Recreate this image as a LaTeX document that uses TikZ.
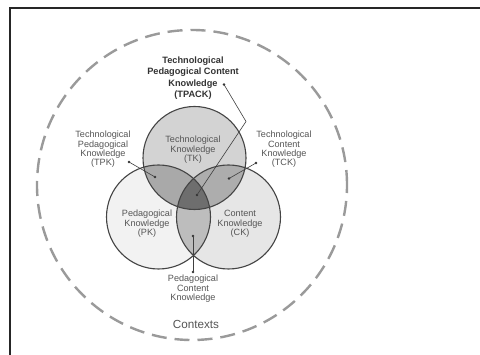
\documentclass[tikz,border=0pt]{standalone}
\usepackage{fontspec}
\setmainfont{Liberation Sans}
\definecolor{tkfill}{HTML}{D3D3D3}
\definecolor{pkfill}{HTML}{F2F2F2}
\definecolor{ckfill}{HTML}{E6E6E6}
\definecolor{tpkfill}{HTML}{A9A9A9}
\definecolor{tckfill}{HTML}{ADADAD}
\definecolor{pckfill}{HTML}{BDBDBD}
\definecolor{tpackfill}{HTML}{6E6E6E}
\definecolor{labelgray}{HTML}{555555}
\definecolor{ringgray}{HTML}{444444}
\definecolor{dashgray}{HTML}{9A9A9A}
\tikzset{
  lbl/.style={align=center, text=labelgray, inner sep=0pt, font=\fontsize{9.1}{9.4}\selectfont},
  tpacklbl/.style={align=center, text=black!80, inner sep=0pt, font=\fontsize{9.2}{11.3}\selectfont\bfseries},
  ring/.style={draw=ringgray, line width=1.1pt},
  lead/.style={draw=black!75, line width=0.6pt},
  dotmark/.style={circle, fill=black!80, inner sep=0pt, minimum size=2.6pt},
}
\begin{document}
\begin{tikzpicture}[x=1pt, y=-1pt]
\useasboundingbox (0,0) rectangle (480,355);
\fill[white] (0,0) rectangle (480,355);
% frame
\draw[black!85, line width=2pt] (10,355) -- (10,8.5) -- (480,8.5);
% contexts ring
\draw[dashgray, line width=2.4pt, dash pattern=on 15pt off 8pt] (192,185) circle[radius=155pt];
% circle fills
\def\tkc{(194.5,158) circle[radius=51.5pt]}
\def\pkc{(158.5,217) circle[radius=52pt]}
\def\ckc{(228.5,217) circle[radius=52pt]}
\fill[tkfill] \tkc;
\fill[pkfill] \pkc;
\fill[ckfill] \ckc;
\begin{scope}
  \clip \tkc;
  \fill[tpkfill] \pkc;
  \fill[tckfill] \ckc;
\end{scope}
\begin{scope}
  \clip \pkc;
  \fill[pckfill] \ckc;
\end{scope}
\begin{scope}
  \clip \tkc;
  \clip \pkc;
  \fill[tpackfill] \ckc;
\end{scope}
\draw[ring] \tkc;
\draw[ring] \pkc;
\draw[ring] \ckc;
% labels
\node[tpacklbl] (tpack) at (193,78) {Technological\\Pedagogical Content\\Knowledge\\(TPACK)};
\node[lbl] (tk) at (193,150) {Technological\\Knowledge\\(TK)};
\node[lbl] (tpk) at (103,149.5) {Technological\\Pedagogical\\Knowledge\\(TPK)};
\node[lbl] (tck) at (284,149.5) {Technological\\Content\\Knowledge\\(TCK)};
\node[lbl] (pk) at (147,224) {Pedagogical\\Knowledge\\(PK)};
\node[lbl] (ck) at (240,224) {Content\\Knowledge\\(CK)};
\node[lbl] (pck) at (193,289) {Pedagogical\\Content\\Knowledge};
\node[text=labelgray, inner sep=0pt, font=\fontsize{11.7}{12}\selectfont] (ctx) at (196,324) {Contexts};
% leader dots
\node[dotmark] (d1) at (224,84.5) {};
\coordinate (b1) at (246,121.5);
\node[dotmark] (d2) at (197,195) {};
\node[dotmark] (d3) at (129,162) {};
\node[dotmark] (d4) at (155,177) {};
\node[dotmark] (d5) at (256,163) {};
\node[dotmark] (d6) at (229,178.5) {};
\node[dotmark] (d7) at (193,236) {};
\node[dotmark] (d8) at (193,272) {};
% leaders
\draw[lead] (d1.center) -- (b1) -- (d2.center);
\draw[lead] (d3.center) -- (d4.center);
\draw[lead] (d5.center) -- (d6.center);
\draw[lead] (d7.center) -- (d8.center);
\end{tikzpicture}
\end{document}
